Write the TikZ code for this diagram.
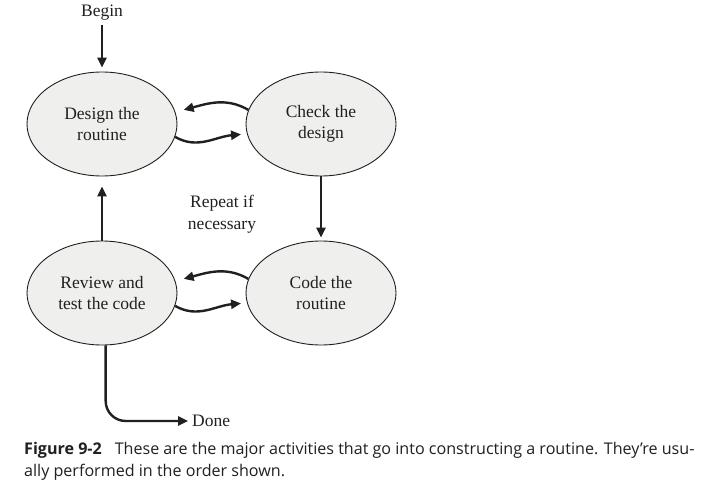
\documentclass[tikz,border=0pt]{standalone}
\usepackage{fontspec}
\setmainfont{Liberation Serif}
\newfontfamily\capfont{Open Sans}
\usetikzlibrary{arrows.meta,shapes.geometric}
\definecolor{ink}{HTML}{231F20}
\definecolor{actfill}{HTML}{EFF0EE}
\begin{document}
\begin{tikzpicture}[x=1pt,y=-1pt,
  act/.style={ellipse, draw=ink, line width=0.9pt, fill=actfill, minimum width=150pt, minimum height=104pt, align=center, inner sep=0pt, text=ink, font=\fontsize{17.5}{21.5}\selectfont},
  lbl/.style={align=center, inner sep=1pt, text=ink, font=\fontsize{17.5}{21.5}\selectfont},
  flow/.style={line width=2.4pt, draw=ink, -{Triangle[length=10pt,width=9pt]}}]
\useasboundingbox[fill=white] (0,0) rectangle (714,497);
\node[act] (design) at (102,124) {Design the\\routine};
\node[act] (check) at (321,124) {Check the\\design};
\node[act] (review) at (102,293) {Review and\\test the code};
\node[act] (code) at (321,293) {Code the\\routine};
\node[lbl] (begin) at (102,13) {Begin};
\node[lbl] (repeat) at (222,214) {Repeat if\\necessary};
\node[lbl, anchor=west] (done) at (191,421) {Done};
\draw[flow] ([yshift=-3pt]begin.south) -- ([yshift=4pt]design.north);
\draw[flow] (check.south) -- ([yshift=3pt]code.north);
\draw[flow] (review.north) -- ([yshift=-10pt]design.south);
\draw[flow] (check.169) to[out=150,in=15] ([xshift=9pt]design.11);
\draw[flow] (design.-10) to[out=-30,in=185] ([xshift=-6pt]check.188);
\draw[flow] (code.169) to[out=150,in=15] ([xshift=9pt]review.11);
\draw[flow] (review.-10) to[out=-30,in=185] ([xshift=-6pt]code.188);
\draw[flow, rounded corners=20pt] (review.-86) |- ([xshift=-3pt]done.west);
\node[anchor=north west, align=left, inner sep=0pt, text=ink, font=\capfont\fontsize{16.1}{22}\selectfont] (caption) at (24,442)
 {\textbf{Figure 9-2}\hspace{0.8em}These are the major activities that go into constructing a routine. They’re usu-\\ally performed in the order shown.};
\end{tikzpicture}
\end{document}
